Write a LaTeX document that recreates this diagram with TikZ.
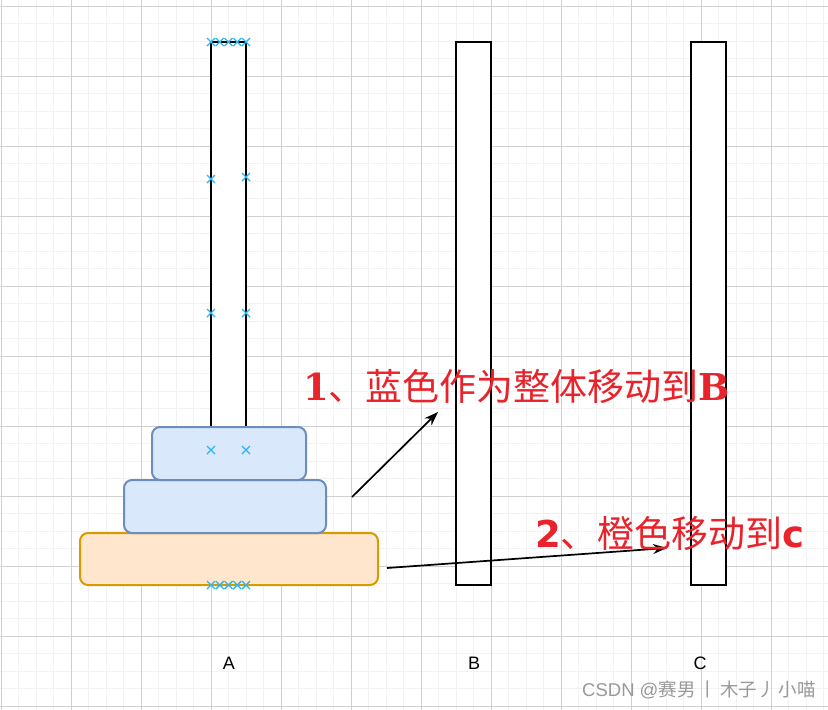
\documentclass[tikz,border=0pt]{standalone}
\usepackage{fontspec}
\setmainfont{Liberation Sans}
\newfontfamily\cjk{Noto Sans CJK SC}
\newfontfamily\serifbold{DejaVu Serif}
\newfontfamily\sansbold{DejaVu Sans}
\usetikzlibrary{arrows.meta}
\definecolor{gminor}{HTML}{F2F2F2}
\definecolor{gmajor}{HTML}{D0D0D0}
\definecolor{bluefill}{HTML}{DAE8FC}
\definecolor{bluedraw}{HTML}{6C8EBF}
\definecolor{orfill}{HTML}{FFE6CC}
\definecolor{ordraw}{HTML}{D79B00}
\definecolor{xcol}{HTML}{29B6F2}
\definecolor{redtxt}{HTML}{E8232B}
\definecolor{wm}{HTML}{999999}
\tikzset{
  rod/.style={draw=black,fill=white,line width=2pt},
  bluedisk/.style={draw=bluedraw,fill=bluefill,line width=2pt,rounded corners=8pt},
  ordisk/.style={draw=ordraw,fill=orfill,line width=2pt,rounded corners=8pt},
  mover/.style={draw=black,line width=1.7pt,-{Stealth[length=14pt,width=10pt]}},
  redlabel/.style={text=redtxt,anchor=west,inner sep=0pt,font=\fontsize{37}{40}\selectfont\cjk},
  pillabel/.style={font=\fontsize{18}{20}\selectfont,text=black,inner sep=0pt},
  xmark/.style={draw=xcol,line width=1.4pt}
}
\newcommand{\xm}[2]{\draw[xmark] (#1-4,#2-4) -- (#1+4,#2+4) (#1-4,#2+4) -- (#1+4,#2-4);}
\begin{document}
\begin{tikzpicture}[x=1pt,y=-1pt]
\useasboundingbox (0,0) rectangle (828,710);
\fill[white] (0,0) rectangle (828,710);
% grid
\foreach \i in {0,...,47} {\draw[gminor,line width=0.8pt] (\i*17.5+1,0) -- (\i*17.5+1,710);}
\foreach \j in {0,...,40} {\draw[gminor,line width=0.8pt] (0,6+\j*17.5) -- (828,6+\j*17.5);}
\foreach \i in {0,...,11} {\draw[gmajor,line width=1pt] (\i*70+1,0) -- (\i*70+1,710);}
\foreach \j in {0,...,10} {\draw[gmajor,line width=1pt] (0,6+\j*70) -- (828,6+\j*70);}
% rods
\node[rod,minimum width=35pt,minimum height=385pt,inner sep=0pt] (rodA) at (228.5,234.5) {};
\node[rod,minimum width=35pt,minimum height=543pt,inner sep=0pt] (rodB) at (473.5,313.5) {};
\node[rod,minimum width=35pt,minimum height=543pt,inner sep=0pt] (rodC) at (708.5,313.5) {};
% disks
\node[ordisk,minimum width=298pt,minimum height=52pt,inner sep=0pt] (d3) at (229,559) {};
\node[bluedisk,minimum width=202pt,minimum height=53pt,inner sep=0pt] (d2) at (225,506.5) {};
\node[bluedisk,minimum width=154pt,minimum height=53pt,inner sep=0pt] (d1) at (229,453.5) {};
% crosses
\foreach \x in {211,219.75,228.5,237.25,246} {\xm{\x}{42}\xm{\x}{585}}
\xm{211}{179}\xm{246}{177}\xm{211}{313}\xm{246}{313}\xm{211}{450}\xm{246}{450}
% arrows
\coordinate (a1s) at (352,497);
\coordinate (a1e) at (438,412);
\coordinate (a2s) at (387,568);
\coordinate (a2e) at (667,548);
\draw[mover] (a1s) -- (a1e);
\draw[mover] (a2s) -- (a2e);
% texts
\node[redlabel] (t1) at (303,386) {{\serifbold\bfseries 1}、蓝色作为整体移动到{\serifbold\bfseries B}};
\node[redlabel] (t2) at (535,533) {{\sansbold\bfseries 2}、橙色移动到{\sansbold\bfseries c}};
\node[pillabel] (lA) at (229,663) {A};
\node[pillabel] (lB) at (474,663) {B};
\node[pillabel] (lC) at (700,663) {C};
\node[text=wm,anchor=west,inner sep=0pt,font=\fontsize{18.5}{20}\selectfont] (wmk) at (582,690) {CSDN @{\cjk 赛男\,丨\,木子丿\,小喵}};
\end{tikzpicture}
\end{document}
